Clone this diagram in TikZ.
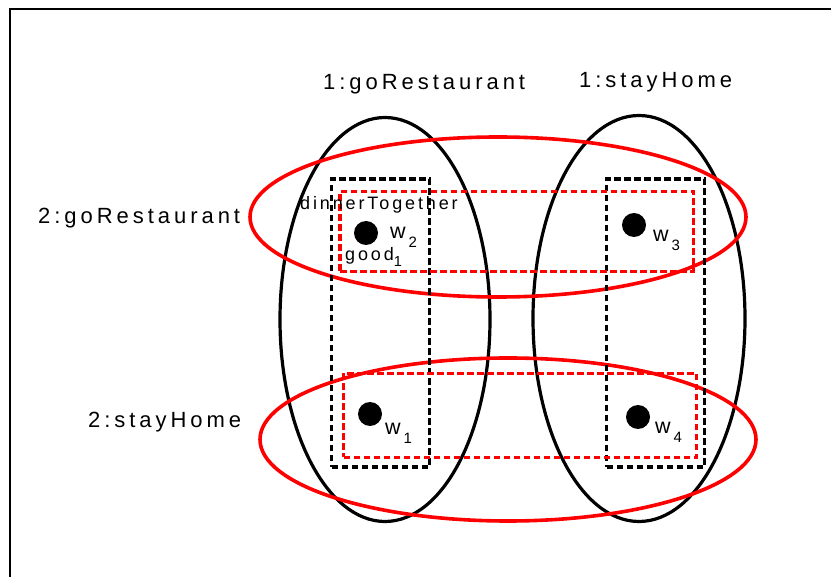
\documentclass[tikz,border=0pt]{standalone}
\usepackage{fontspec}
\usetikzlibrary{shapes.geometric}
\newfontfamily\lblfont[LetterSpace=18]{Liberation Sans}
\newfontfamily\smfont[LetterSpace=16]{Liberation Sans}
\newfontfamily\wfont{Liberation Sans}
\definecolor{myred}{RGB}{255,0,0}
\newcommand{\wsub}[1]{{\wfont\fontsize{21.5}{23}\selectfont w\kern3pt\raisebox{-9pt}{\fontsize{15}{16}\selectfont #1}}}
\begin{document}
\begin{tikzpicture}[x=1pt,y=-1pt,
  blackell/.style={ellipse,draw=black,line width=3.2pt,inner sep=0pt},
  redell/.style={ellipse,draw=myred,line width=3.6pt,inner sep=0pt},
  blackbox/.style={rectangle,draw=black,line width=3.1pt,dash pattern=on 6.5pt off 3.5pt,inner sep=0pt},
  redbox/.style={rectangle,draw=myred,line width=3.1pt,dash pattern=on 6.5pt off 3.5pt,inner sep=0pt},
  dot/.style={circle,fill=black,inner sep=0pt,minimum size=24pt},
  biglbl/.style={anchor=base west,inner sep=0pt,font=\lblfont\fontsize{22}{26}\selectfont},
  smlbl/.style={anchor=base west,inner sep=0pt,font=\smfont\fontsize{18}{21}\selectfont},
  wlbl/.style={anchor=base west,inner sep=0pt}]
\useasboundingbox (0,0) rectangle (831,577);
\begin{scope}
\clip (0,0) rectangle (831,577);
\draw[line width=2.9pt] (10,600) -- (10,9) -- (860,9);
\end{scope}
% black ellipses
\node[blackell,minimum width=210pt,minimum height=404pt] (e1) at (385,319.5) {};
\node[blackell,minimum width=212pt,minimum height=406pt] (e2) at (639,318.5) {};
% red ellipses
\node[redell,minimum width=496pt,minimum height=160pt] (r1) at (498,217) {};
\node[redell,minimum width=496pt,minimum height=163pt] (r2) at (508,439.5) {};
% dashed boxes
\node[blackbox,minimum width=98pt,minimum height=288pt] (b1) at (380.5,323) {};
\node[blackbox,minimum width=98pt,minimum height=288pt] (b2) at (655.5,323) {};
\node[redbox,minimum width=353.5pt,minimum height=80pt] (q1) at (516.75,231.5) {};
\node[redbox,minimum width=353pt,minimum height=84pt] (q2) at (520,415.5) {};
% dots
\node[dot] (w2) at (366,233) {};
\node[dot] (w3) at (634,225) {};
\node[dot] (w1) at (370,414) {};
\node[dot] (w4) at (638,417) {};
% labels
\node[biglbl] (l1) at (323,90) {1:goRestaurant};
\node[biglbl] (l2) at (579,88) {1:stayHome};
\node[biglbl] (l3) at (38,224) {2:goRestaurant};
\node[biglbl] (l4) at (88,428) {2:stayHome};
\node[smlbl] (dt) at (300,210) {dinnerTogether};
\node[wlbl] (gd) at (345,261) {{\smfont\fontsize{18}{21}\selectfont good}\raisebox{-6pt}{\wfont\fontsize{14.5}{16}\selectfont 1}};
\node[wlbl] (t2) at (390,239) {\wsub{2}};
\node[wlbl] (t3) at (653,242) {\wsub{3}};
\node[wlbl] (t1) at (385,435) {\wsub{1}};
\node[wlbl] (t4) at (655,434) {\wsub{4}};
\end{tikzpicture}
\end{document}
